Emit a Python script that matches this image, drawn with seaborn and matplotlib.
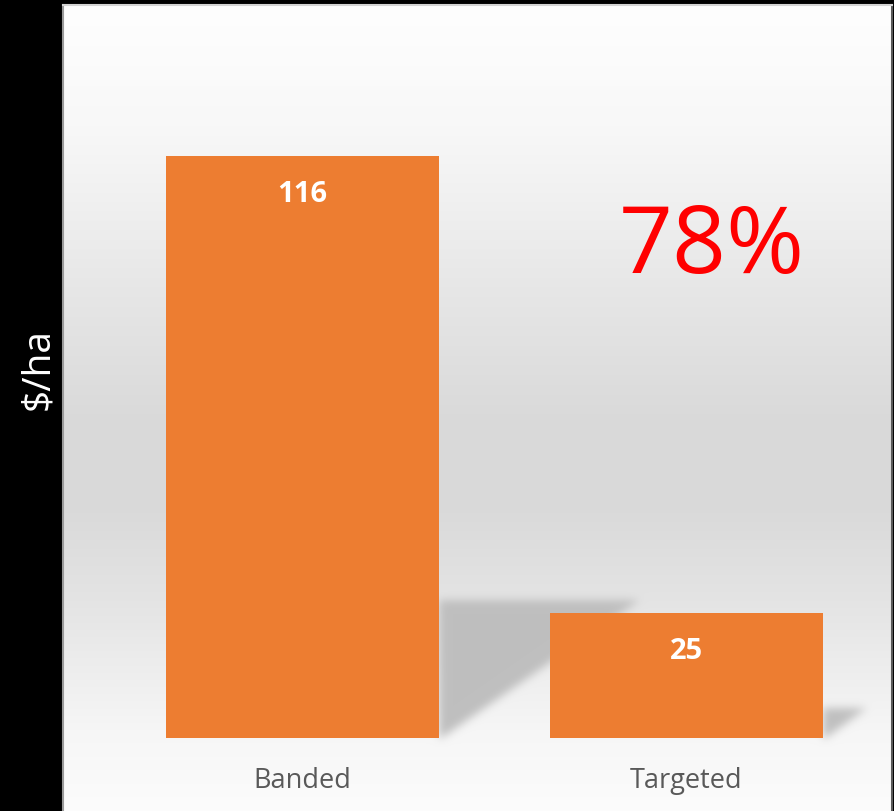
import numpy as np
import pandas as pd
import matplotlib
matplotlib.use("Agg")
import matplotlib.pyplot as plt
import seaborn as sns
from matplotlib.path import Path

# ---- data -------------------------------------------------------------
categories = ["Banded", "Targeted"]
cost_per_ha = [116, 25]
y_label = "$/ha"

# ---- figure geometry (pixels) -----------------------------------------
W, H, DPI = 894, 812, 100
PX0, PX1, PY0, PY1 = 63, 892, 6, 812      # light panel
BASE_Y, TOP_Y = 739, 8                    # zero line / top of value axis
BAR_COLOR = "#ED7D31"
FONT = "Open Sans"

sns.set_theme(style="white")
plt.rcParams["font.family"] = [FONT, "DejaVu Sans"]

fig = plt.figure(figsize=(W / DPI, H / DPI), dpi=DPI, facecolor="black")


def rect(x0, x1, ytop, ybot):
    return [x0 / W, 1 - ybot / H, (x1 - x0) / W, (ybot - ytop) / H]


bg_ax = fig.add_axes(rect(PX0, PX1, PY0, PY1), zorder=0)
ax = fig.add_axes(rect(PX0, PX1, TOP_Y, BASE_Y), zorder=1)
ax.patch.set_alpha(0)

# ---- bars -------------------------------------------------------------
df = pd.DataFrame({"method": categories, "cost": cost_per_ha})
bar_w = 0.711
sns.barplot(data=df, x="method", y="cost", ax=ax, color=BAR_COLOR,
            saturation=1, width=bar_w, linewidth=0, edgecolor="none", zorder=3)
ax.set_xlim(-0.6237, 1.535)
ax.set_ylim(0, 145.7)
ax.set_xlabel("")
ax.set_ylabel("")
ax.set_yticks([])
for s in ax.spines.values():
    s.set_visible(False)
ax.tick_params(axis="x", length=0, pad=20, labelsize=19.5, labelcolor="#595959")
for lab in ax.get_xticklabels():
    lab.set_fontfamily(FONT)

# value labels inside the bars
for i, v in enumerate(cost_per_ha):
    ax.annotate(f"{v}", xy=(i, v), xytext=(0, -45 * 72 / DPI),
                textcoords="offset points", ha="center", va="baseline",
                color="white", fontweight="bold", fontsize=21, family=FONT,
                zorder=5)

# percentage saving
saving = round((1 - cost_per_ha[1] / cost_per_ha[0]) * 100)
ax.text(1.066, 92.9, f"{saving}%", ha="center", va="baseline",
        color="#FF0000", fontsize=68, family=FONT, zorder=5)

# ---- background: vertical gradient with soft floor shadows ------------
pw, ph = PX1 - PX0, PY1 - PY0
rows = np.arange(ph) / (ph - 1)
stops_t = [0.0, 0.15, 0.35, 0.52, 0.62, 0.74, 0.90, 1.0]
stops_v = [254, 248, 231, 217, 217, 228, 246, 252]
grad = np.interp(rows, stops_t, stops_v)
img = np.repeat(grad[:, None], pw, axis=1)

yy, xx = np.mgrid[0:ph, 0:pw]
pts = np.column_stack([xx.ravel() + PX0 + 0.5, yy.ravel() + PY0 + 0.5])
mask = np.zeros(ph * pw)
for i, v in enumerate(cost_per_ha):
    xr = i + bar_w / 2
    ys = 0.237 * v
    xe = xr + 0.0045 * v
    poly = np.array([(xr, 0), (xr, ys), (xe, ys), (xr + 0.006, 0)])
    disp = ax.transData.transform(poly)
    pix = np.column_stack([disp[:, 0], H - disp[:, 1]])
    mask = np.maximum(mask, Path(pix).contains_points(pts).astype(float))
mask = mask.reshape(ph, pw)

# gaussian blur (separable)
r = 7
k = np.exp(-0.5 * (np.arange(-r * 2, r * 2 + 1) / (r / 1.6)) ** 2)
k /= k.sum()
mask = np.apply_along_axis(lambda m: np.convolve(m, k, mode="same"), 0, mask)
mask = np.apply_along_axis(lambda m: np.convolve(m, k, mode="same"), 1, mask)
img = img * (1 - mask) + 191 * mask

rgb = np.repeat((img / 255.0)[:, :, None], 3, axis=2)
bg_ax.imshow(rgb, aspect="auto", interpolation="nearest",
             extent=(0, pw, ph, 0))
bg_ax.set_xlim(0, pw)
bg_ax.set_ylim(ph, 0)
bg_ax.set_xticks([])
bg_ax.set_yticks([])
bg_ax.spines["bottom"].set_visible(False)
bg_ax.spines["left"].set_color("#9A9A9A")
bg_ax.spines["left"].set_linewidth(1.5)
bg_ax.spines["top"].set_color("#D4D4D4")
bg_ax.spines["top"].set_linewidth(1.5)
bg_ax.spines["right"].set_color("#5A5A5A")
bg_ax.spines["right"].set_linewidth(1.5)

# axis title on the black margin
fig.text(38 / W, 1 - 369 / H, y_label, rotation=90, ha="center", va="center",
         color="white", fontsize=28, family=FONT)

fig.savefig("out.png", dpi=DPI, facecolor="black")
